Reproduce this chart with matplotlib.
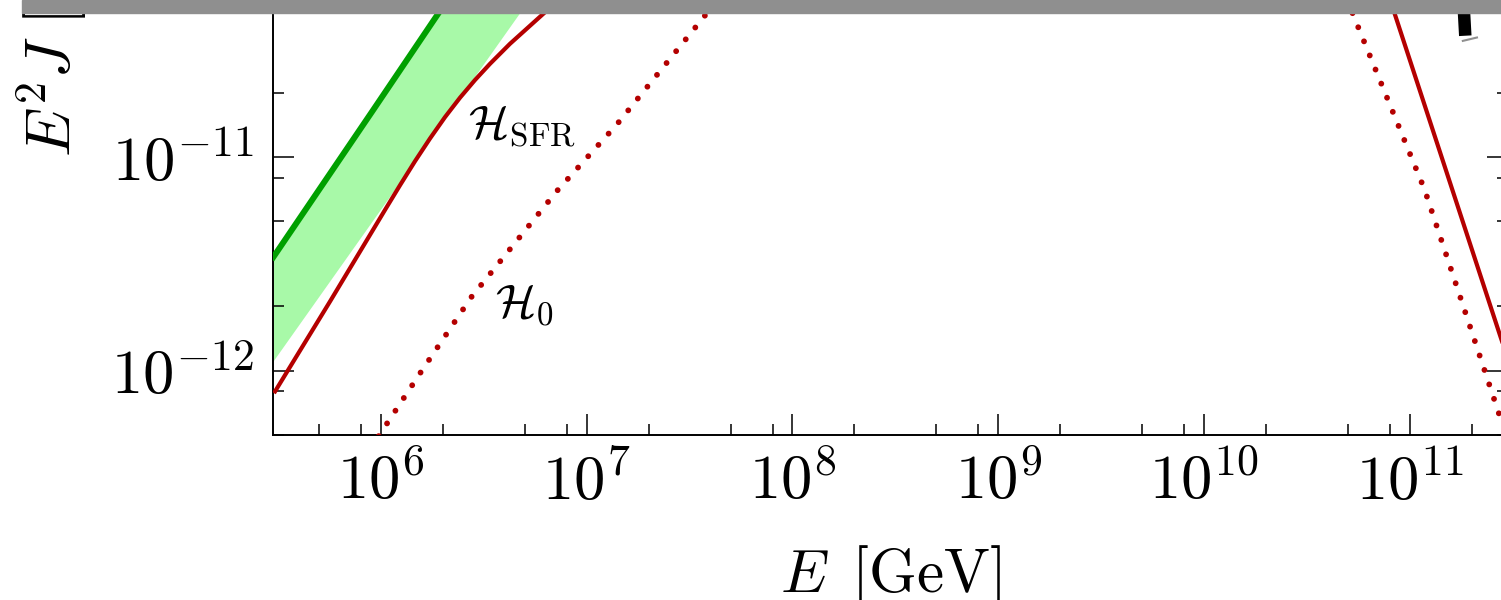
import numpy as np
import matplotlib
matplotlib.use('Agg')
import matplotlib.pyplot as plt
from matplotlib.ticker import LogLocator, FuncFormatter, NullFormatter
from matplotlib.patches import Rectangle

plt.rcParams['mathtext.fontset'] = 'cm'
plt.rcParams['font.family'] = 'serif'

# diffuse neutrino flux, E [GeV] vs E^2 J
E_green = [3.0e5, 9.05e5, 1.9e6, 4.0e6]
J_green = [3.4e-12, 1.63e-11, 4.7e-11, 1.32e-10]

# lower edge of the allowed band
E_band_lo = [3.0e5, 4.74e6, 1.0e7]
J_band_lo = [1.1e-12, 4.7e-11, 1.3e-10]

# H_SFR model (low and high energy branches)
E_sfr = [3.06e5, 5.66e5, 1.047e6, 1.238e6, 1.464e6, 1.732e6, 2.048e6, 2.423e6,
         2.866e6, 3.39e6, 4.24e6, 6.34e6, 1.6e7,
         6.3e10, 8.4e10, 2.74e11, 3.2e11]
J_sfr = [8.0e-13, 2.11e-12, 5.66e-12, 7.38e-12, 9.56e-12, 1.222e-11, 1.538e-11, 1.897e-11,
         2.296e-11, 2.734e-11, 3.393e-11, 4.81e-11, 1.06e-10,
         1.1e-10, 4.76e-11, 1.47e-12, 9.4e-13]

# H_0 model
E_h0 = [8.9e5, 9.93e5, 1.58e6, 2.75e6, 7.14e6, 1.4e7, 3.62e7, 7.9e7,
        4.0e10, 5.51e10, 1.18e11, 2.74e11, 3.2e11]
J_h0 = [4.3e-13, 5.07e-13, 1.0e-12, 2.21e-12, 6.91e-12, 1.42e-11, 4.4e-11, 1.12e-10,
        9.1e-11, 4.24e-11, 7.04e-12, 6.1e-13, 3.9e-13]

# black data mark near the right edge, with its small cap
E_mark = [1.78e11, 1.86e11]
J_mark = [8.0e-11, 3.7e-11]
E_cap = [1.81e11, 2.12e11]
J_cap = [3.5e-11, 3.63e-11]

xlim = (3e5, 3e11)
ylim = (5e-13, 1e-8)

W, H = 1501, 600
fig = plt.figure(figsize=(W / 100, H / 100), dpi=100)

x0, x1 = 273.3, 1508.0
ybot = 435.0
dec_y = 213.6
ax_h = dec_y * (np.log10(ylim[1]) - np.log10(ylim[0]))
ax = fig.add_axes([x0 / W, 1 - ybot / H, (x1 - x0) / W, ax_h / H])

band_x = np.concatenate([E_band_lo, E_green[::-1]])
band_y = np.concatenate([J_band_lo, J_green[::-1]])
ax.fill(band_x, band_y, color='#a8f9a8', lw=0, zorder=1)
ax.plot(E_green, J_green, color='#00a000', lw=4.3, zorder=3)
ax.plot(E_sfr, J_sfr, color='#b40000', lw=3.0, zorder=3)
ax.plot(E_h0, J_h0, color='#b40000', lw=4.2, ls=(0, (0.01, 2.6)),
        dash_capstyle='round', zorder=3)
ax.plot(E_mark, J_mark, color='k', lw=9, solid_capstyle='butt', zorder=4)
ax.plot(E_cap, J_cap, color='#909090', lw=1.5, zorder=4)

ax.text(2.65e6, 1.24e-11, r'$\mathcal{H}_{\rm SFR}$', fontsize=34,
        ha='left', va='baseline')
ax.text(3.58e6, 1.8e-12, r'$\mathcal{H}_0$', fontsize=34,
        ha='left', va='baseline')

ax.set_xscale('log')
ax.set_yscale('log')
ax.set_xlim(*xlim)
ax.set_ylim(*ylim)

for axis in (ax.xaxis, ax.yaxis):
    axis.set_major_locator(LogLocator(base=10, numticks=30))
    axis.set_minor_locator(LogLocator(base=10, subs=(2, 5, 8), numticks=30))
    axis.set_major_formatter(FuncFormatter(lambda v, p: r'$10^{%d}$' % round(np.log10(v))))
    axis.set_minor_formatter(NullFormatter())

ax.tick_params(which='both', direction='in', top=True, right=True, width=1.1)
ax.tick_params(which='major', length=15, labelsize=45)
ax.tick_params(which='minor', length=7.7)
ax.tick_params(axis='x', pad=12)
ax.tick_params(axis='y', pad=14)
for s in ax.spines.values():
    s.set_linewidth(1.4)

ax.set_xlabel(r'$E\ \,[\mathrm{GeV}]$', fontsize=44, labelpad=22)
fig.text(52 / W, 1 - 157 / H,
         r'$E^2 J\ [\mathrm{GeV\,cm^{-2}\,s^{-1}\,sr^{-1}}]$',
         fontsize=45, rotation=90, rotation_mode='anchor',
         ha='left', va='center')

# grey strip along the top edge
fig.patches.append(Rectangle((22 / W, 1 - 12.5 / H), 1, 12.5 / H,
                             transform=fig.transFigure, color='#8f8f8f',
                             zorder=10))

fig.savefig('out.png', dpi=100)
